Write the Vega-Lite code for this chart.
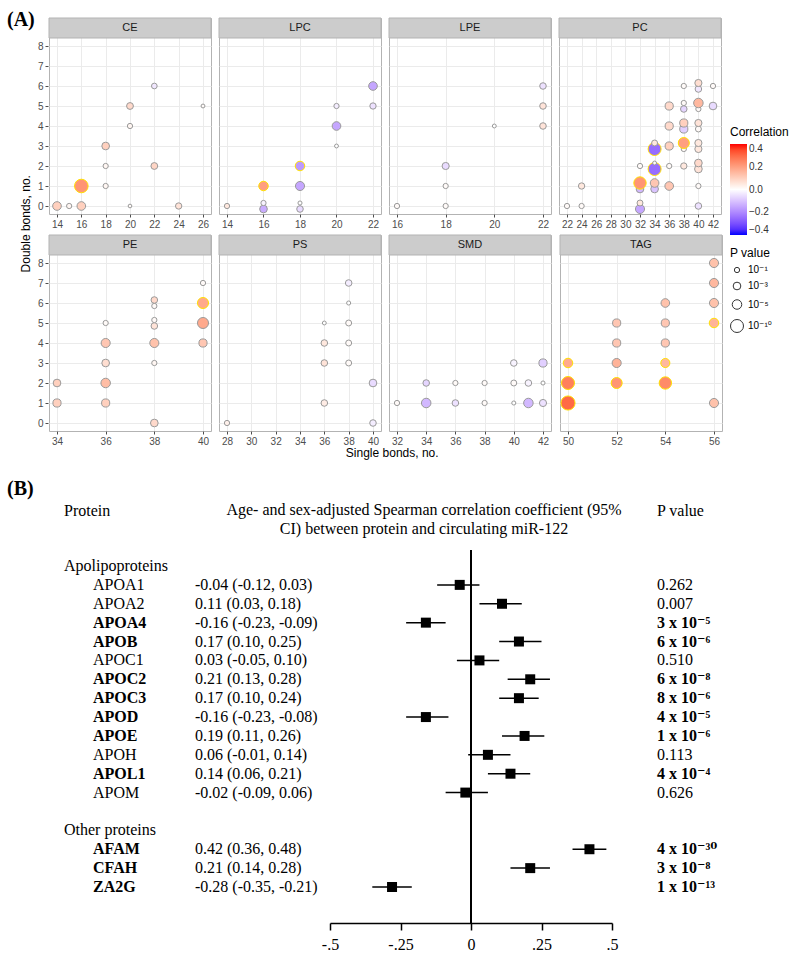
{
  "$schema": "https://vega.github.io/schema/vega-lite/v6.json",
  "background": "white",
  "padding": {"left": 7, "top": 10, "right": 0, "bottom": 0},
  "title": {"text": "(A)", "anchor": "start", "font": "Liberation Serif", "fontSize": 20, "fontWeight": "bold", "offset": -13, "frame": "bounds", "color": "black"},
  "resolve": {"scale": {"x": "independent", "y": "independent"}},
  "spacing": 20,
  "vconcat": [
    {
      "title": {"text": "Double bonds, no.", "orient": "left", "anchor": "middle", "frame": "bounds", "dx": 14, "font": "Liberation Sans", "fontSize": 12, "fontWeight": "normal", "offset": 4, "color": "black"},
      "vconcat": [
    {
      "title": {"text": "Single bonds, no.", "orient": "bottom", "anchor": "middle", "font": "Liberation Sans", "fontSize": 12, "fontWeight": "normal", "offset": 1, "dx": 12, "color": "black"},
      "data": {"values": [
        {"class":"CE","single":14,"double":0,"corr":0.10,"nlogp":4,"sig":"n"},
        {"class":"CE","single":15,"double":0,"corr":0.02,"nlogp":1,"sig":"n"},
        {"class":"CE","single":16,"double":0,"corr":0.10,"nlogp":4,"sig":"n"},
        {"class":"CE","single":16,"double":1,"corr":0.22,"nlogp":11,"sig":"y"},
        {"class":"CE","single":18,"double":1,"corr":0.02,"nlogp":1,"sig":"n"},
        {"class":"CE","single":18,"double":2,"corr":0.02,"nlogp":1,"sig":"n"},
        {"class":"CE","single":18,"double":3,"corr":0.10,"nlogp":3,"sig":"n"},
        {"class":"CE","single":20,"double":0,"corr":0.01,"nlogp":0.1,"sig":"n"},
        {"class":"CE","single":20,"double":4,"corr":0.02,"nlogp":1,"sig":"n"},
        {"class":"CE","single":20,"double":5,"corr":0.08,"nlogp":2.2,"sig":"n"},
        {"class":"CE","single":22,"double":2,"corr":0.09,"nlogp":2.2,"sig":"n"},
        {"class":"CE","single":22,"double":6,"corr":-0.04,"nlogp":1.3,"sig":"n"},
        {"class":"CE","single":24,"double":0,"corr":0.06,"nlogp":1.8,"sig":"n"},
        {"class":"CE","single":26,"double":5,"corr":0.01,"nlogp":0.2,"sig":"n"},
        {"class":"LPC","single":14,"double":0,"corr":0.05,"nlogp":1,"sig":"n"},
        {"class":"LPC","single":16,"double":-0.15,"corr":-0.14,"nlogp":3,"sig":"n"},
        {"class":"LPC","single":16,"double":0.15,"corr":-0.02,"nlogp":1,"sig":"n"},
        {"class":"LPC","single":16,"double":1,"corr":0.20,"nlogp":5,"sig":"y"},
        {"class":"LPC","single":18,"double":-0.15,"corr":-0.06,"nlogp":2,"sig":"n"},
        {"class":"LPC","single":18,"double":0.15,"corr":0.0,"nlogp":0.3,"sig":"n"},
        {"class":"LPC","single":18,"double":1,"corr":-0.15,"nlogp":4.5,"sig":"n"},
        {"class":"LPC","single":18,"double":2,"corr":-0.17,"nlogp":5,"sig":"y"},
        {"class":"LPC","single":20,"double":3,"corr":0.0,"nlogp":0.2,"sig":"n"},
        {"class":"LPC","single":20,"double":4,"corr":-0.15,"nlogp":4,"sig":"n"},
        {"class":"LPC","single":20,"double":5,"corr":-0.03,"nlogp":1,"sig":"n"},
        {"class":"LPC","single":22,"double":5,"corr":-0.05,"nlogp":1.8,"sig":"n"},
        {"class":"LPC","single":22,"double":6,"corr":-0.15,"nlogp":4,"sig":"n"},
        {"class":"LPE","single":16,"double":0,"corr":0.01,"nlogp":1,"sig":"n"},
        {"class":"LPE","single":18,"double":0,"corr":0.01,"nlogp":1,"sig":"n"},
        {"class":"LPE","single":18,"double":1,"corr":0.01,"nlogp":1,"sig":"n"},
        {"class":"LPE","single":18,"double":2,"corr":-0.06,"nlogp":2.5,"sig":"n"},
        {"class":"LPE","single":20,"double":4,"corr":0.0,"nlogp":0.2,"sig":"n"},
        {"class":"LPE","single":22,"double":4,"corr":0.06,"nlogp":2,"sig":"n"},
        {"class":"LPE","single":22,"double":5,"corr":0.06,"nlogp":2,"sig":"n"},
        {"class":"LPE","single":22,"double":6,"corr":-0.05,"nlogp":2,"sig":"n"},
        {"class":"PC","single":22,"double":0,"corr":0.01,"nlogp":1,"sig":"n"},
        {"class":"PC","single":24,"double":0,"corr":0.01,"nlogp":1,"sig":"n"},
        {"class":"PC","single":24,"double":1,"corr":0.05,"nlogp":1.8,"sig":"n"},
        {"class":"PC","single":32,"double":-0.15,"corr":-0.15,"nlogp":4.5,"sig":"n"},
        {"class":"PC","single":32,"double":0.15,"corr":0.05,"nlogp":1.5,"sig":"n"},
        {"class":"PC","single":32,"double":0.85,"corr":-0.12,"nlogp":3,"sig":"n"},
        {"class":"PC","single":32,"double":1.15,"corr":0.22,"nlogp":9,"sig":"y"},
        {"class":"PC","single":32,"double":2,"corr":0.01,"nlogp":1,"sig":"n"},
        {"class":"PC","single":34,"double":0.85,"corr":-0.10,"nlogp":3,"sig":"n"},
        {"class":"PC","single":34,"double":1.15,"corr":0.12,"nlogp":4,"sig":"n"},
        {"class":"PC","single":34,"double":1.85,"corr":-0.25,"nlogp":10,"sig":"y"},
        {"class":"PC","single":34,"double":2.15,"corr":0.01,"nlogp":0.2,"sig":"n"},
        {"class":"PC","single":34,"double":2.85,"corr":-0.25,"nlogp":10,"sig":"y"},
        {"class":"PC","single":34,"double":3.15,"corr":0.05,"nlogp":1.5,"sig":"n"},
        {"class":"PC","single":36,"double":1,"corr":0.12,"nlogp":4,"sig":"n"},
        {"class":"PC","single":36,"double":2,"corr":0.01,"nlogp":1,"sig":"n"},
        {"class":"PC","single":36,"double":3,"corr":0.10,"nlogp":3.5,"sig":"n"},
        {"class":"PC","single":36,"double":4,"corr":0.08,"nlogp":3.5,"sig":"n"},
        {"class":"PC","single":36,"double":5,"corr":0.08,"nlogp":3.5,"sig":"n"},
        {"class":"PC","single":38,"double":2,"corr":0.05,"nlogp":1.8,"sig":"n"},
        {"class":"PC","single":38,"double":2.85,"corr":0.01,"nlogp":1,"sig":"n"},
        {"class":"PC","single":38,"double":3.15,"corr":0.20,"nlogp":7,"sig":"y"},
        {"class":"PC","single":38,"double":3.85,"corr":-0.08,"nlogp":3.5,"sig":"n"},
        {"class":"PC","single":38,"double":4.15,"corr":0.10,"nlogp":3.5,"sig":"n"},
        {"class":"PC","single":38,"double":4.85,"corr":-0.07,"nlogp":2,"sig":"n"},
        {"class":"PC","single":38,"double":5.15,"corr":0.01,"nlogp":1,"sig":"n"},
        {"class":"PC","single":38,"double":6,"corr":0.01,"nlogp":1,"sig":"n"},
        {"class":"PC","single":40,"double":0,"corr":-0.05,"nlogp":2,"sig":"n"},
        {"class":"PC","single":40,"double":1,"corr":0.01,"nlogp":1,"sig":"n"},
        {"class":"PC","single":40,"double":1.85,"corr":0.06,"nlogp":3,"sig":"n"},
        {"class":"PC","single":40,"double":2.15,"corr":0.08,"nlogp":3,"sig":"n"},
        {"class":"PC","single":40,"double":2.85,"corr":0.05,"nlogp":2.5,"sig":"n"},
        {"class":"PC","single":40,"double":3.15,"corr":0.05,"nlogp":2.5,"sig":"n"},
        {"class":"PC","single":40,"double":3.85,"corr":0.01,"nlogp":1.5,"sig":"n"},
        {"class":"PC","single":40,"double":4.15,"corr":0.06,"nlogp":2.5,"sig":"n"},
        {"class":"PC","single":40,"double":4.85,"corr":0.01,"nlogp":1,"sig":"n"},
        {"class":"PC","single":40,"double":5.15,"corr":0.15,"nlogp":5,"sig":"n"},
        {"class":"PC","single":40,"double":5.85,"corr":-0.04,"nlogp":2,"sig":"n"},
        {"class":"PC","single":40,"double":6.15,"corr":0.07,"nlogp":2.5,"sig":"n"},
        {"class":"PC","single":42,"double":5,"corr":-0.06,"nlogp":3,"sig":"n"},
        {"class":"PC","single":42,"double":6,"corr":0.01,"nlogp":1,"sig":"n"},
        {"class":"PE","single":34,"double":1,"corr":0.10,"nlogp":3.5,"sig":"n"},
        {"class":"PE","single":34,"double":2,"corr":0.10,"nlogp":3,"sig":"n"},
        {"class":"PE","single":36,"double":1,"corr":0.10,"nlogp":3.5,"sig":"n"},
        {"class":"PE","single":36,"double":2,"corr":0.14,"nlogp":5,"sig":"n"},
        {"class":"PE","single":36,"double":3,"corr":0.07,"nlogp":3,"sig":"n"},
        {"class":"PE","single":36,"double":4,"corr":0.12,"nlogp":4.5,"sig":"n"},
        {"class":"PE","single":36,"double":5,"corr":0.01,"nlogp":1,"sig":"n"},
        {"class":"PE","single":38,"double":0,"corr":0.08,"nlogp":3,"sig":"n"},
        {"class":"PE","single":38,"double":3,"corr":0.02,"nlogp":1,"sig":"n"},
        {"class":"PE","single":38,"double":4,"corr":0.13,"nlogp":4.5,"sig":"n"},
        {"class":"PE","single":38,"double":4.85,"corr":0.06,"nlogp":2,"sig":"n"},
        {"class":"PE","single":38,"double":5.15,"corr":0.01,"nlogp":1,"sig":"n"},
        {"class":"PE","single":38,"double":5.85,"corr":0.01,"nlogp":1,"sig":"n"},
        {"class":"PE","single":38,"double":6.15,"corr":0.08,"nlogp":2,"sig":"n"},
        {"class":"PE","single":40,"double":4,"corr":0.12,"nlogp":3.5,"sig":"n"},
        {"class":"PE","single":40,"double":5,"corr":0.18,"nlogp":7,"sig":"n"},
        {"class":"PE","single":40,"double":6,"corr":0.18,"nlogp":7,"sig":"y"},
        {"class":"PE","single":40,"double":7,"corr":0.01,"nlogp":1,"sig":"n"},
        {"class":"PS","single":28,"double":0,"corr":0.03,"nlogp":1,"sig":"n"},
        {"class":"PS","single":36,"double":1,"corr":0.04,"nlogp":2,"sig":"n"},
        {"class":"PS","single":36,"double":3,"corr":0.06,"nlogp":2,"sig":"n"},
        {"class":"PS","single":36,"double":4,"corr":0.05,"nlogp":2,"sig":"n"},
        {"class":"PS","single":36,"double":5,"corr":0.0,"nlogp":0.2,"sig":"n"},
        {"class":"PS","single":38,"double":3,"corr":0.01,"nlogp":1.5,"sig":"n"},
        {"class":"PS","single":38,"double":4,"corr":0.01,"nlogp":1.5,"sig":"n"},
        {"class":"PS","single":38,"double":5,"corr":0.01,"nlogp":1.5,"sig":"n"},
        {"class":"PS","single":38,"double":6,"corr":0.0,"nlogp":0.3,"sig":"n"},
        {"class":"PS","single":38,"double":7,"corr":-0.03,"nlogp":2,"sig":"n"},
        {"class":"PS","single":40,"double":0,"corr":-0.03,"nlogp":2,"sig":"n"},
        {"class":"PS","single":40,"double":2,"corr":-0.06,"nlogp":3,"sig":"n"},
        {"class":"SMD","single":32,"double":1,"corr":0.01,"nlogp":1,"sig":"n"},
        {"class":"SMD","single":34,"double":1,"corr":-0.12,"nlogp":5,"sig":"n"},
        {"class":"SMD","single":34,"double":2,"corr":-0.07,"nlogp":2,"sig":"n"},
        {"class":"SMD","single":36,"double":1,"corr":-0.05,"nlogp":2,"sig":"n"},
        {"class":"SMD","single":36,"double":2,"corr":0.01,"nlogp":1,"sig":"n"},
        {"class":"SMD","single":38,"double":1,"corr":0.01,"nlogp":1,"sig":"n"},
        {"class":"SMD","single":38,"double":2,"corr":0.01,"nlogp":1,"sig":"n"},
        {"class":"SMD","single":40,"double":1,"corr":0.0,"nlogp":0.3,"sig":"n"},
        {"class":"SMD","single":40,"double":2,"corr":0.01,"nlogp":1.5,"sig":"n"},
        {"class":"SMD","single":40,"double":3,"corr":-0.02,"nlogp":2,"sig":"n"},
        {"class":"SMD","single":41,"double":1,"corr":-0.12,"nlogp":5,"sig":"n"},
        {"class":"SMD","single":41,"double":2,"corr":-0.02,"nlogp":2,"sig":"n"},
        {"class":"SMD","single":42,"double":1,"corr":-0.05,"nlogp":2.5,"sig":"n"},
        {"class":"SMD","single":42,"double":2,"corr":0.0,"nlogp":0.3,"sig":"n"},
        {"class":"SMD","single":42,"double":3,"corr":-0.08,"nlogp":3.5,"sig":"n"},
        {"class":"TAG","single":50,"double":1,"corr":0.30,"nlogp":12,"sig":"y"},
        {"class":"TAG","single":50,"double":2,"corr":0.26,"nlogp":10,"sig":"y"},
        {"class":"TAG","single":50,"double":3,"corr":0.18,"nlogp":5,"sig":"y"},
        {"class":"TAG","single":52,"double":2,"corr":0.22,"nlogp":7,"sig":"y"},
        {"class":"TAG","single":52,"double":3,"corr":0.16,"nlogp":4.5,"sig":"n"},
        {"class":"TAG","single":52,"double":4,"corr":0.12,"nlogp":3.5,"sig":"n"},
        {"class":"TAG","single":52,"double":5,"corr":0.12,"nlogp":3.5,"sig":"n"},
        {"class":"TAG","single":54,"double":2,"corr":0.24,"nlogp":9,"sig":"y"},
        {"class":"TAG","single":54,"double":3,"corr":0.15,"nlogp":4.5,"sig":"y"},
        {"class":"TAG","single":54,"double":4,"corr":0.12,"nlogp":3.5,"sig":"n"},
        {"class":"TAG","single":54,"double":5,"corr":0.12,"nlogp":3.5,"sig":"n"},
        {"class":"TAG","single":54,"double":6,"corr":0.13,"nlogp":4,"sig":"n"},
        {"class":"TAG","single":56,"double":1,"corr":0.13,"nlogp":4.5,"sig":"n"},
        {"class":"TAG","single":56,"double":5,"corr":0.16,"nlogp":5,"sig":"y"},
        {"class":"TAG","single":56,"double":6,"corr":0.13,"nlogp":4.5,"sig":"n"},
        {"class":"TAG","single":56,"double":7,"corr":0.15,"nlogp":4.5,"sig":"n"},
        {"class":"TAG","single":56,"double":8,"corr":0.13,"nlogp":4.5,"sig":"n"}
      ]},
      "facet": {"field": "class", "type": "nominal", "header": {"labels": false, "title": null, "labelFontSize": 0, "labelPadding": 0}},
      "columns": 4,
      "spacing": {"row": 4, "column": 6},
      "resolve": {"scale": {"x": "independent"}},
      "spec": {
        "width": 162,
        "height": 196,
        "layer": [
          {
            "transform": [{"aggregate": [{"op": "count", "as": "n"}], "groupby": ["class"]}],
            "mark": {"type": "rect", "fill": "#CCCCCC", "stroke": "#B3B3B3", "strokeWidth": 1},
            "encoding": {
              "x": {"value": 0},
              "x2": {"value": "width"},
              "y": {"datum": 8.4},
              "y2": {"datum": 9.4}
            }
          },
          {
            "transform": [
              {"aggregate": [{"op": "min", "field": "single", "as": "lo"}, {"op": "max", "field": "single", "as": "hi"}], "groupby": ["class"]},
              {"calculate": "(datum.lo + datum.hi) / 2", "as": "mid"}
            ],
            "mark": {"type": "text", "fontSize": 11, "color": "#1A1A1A", "baseline": "middle", "font": "Liberation Sans"},
            "encoding": {
              "x": {"field": "mid", "type": "quantitative", "title": null},
              "y": {"datum": 8.9},
              "text": {"field": "class"}
            }
          },
          {
            "mark": {"type": "circle", "strokeWidth": 1, "opacity": 1},
            "encoding": {
              "x": {"field": "single", "type": "quantitative", "title": null,
                "scale": {"zero": false, "nice": false, "padding": 8},
                "axis": {"title": null, "values": [12,14,16,18,20,22,24,26,28,30,32,34,36,38,40,42,44,46,48,50,52,54,56,58], "tickCount": 30, "format": "d", "labelFontSize": 10, "labelColor": "#4D4D4D", "tickColor": "#4D4D4D", "tickSize": 3, "labelPadding": 2, "domain": false, "grid": true, "gridColor": "#EBEBEB", "labelFlush": false, "labelOverlap": false}},
              "y": {"field": "double", "type": "quantitative",
                "scale": {"domain": [-0.4, 9.4], "nice": false, "zero": false},
                "axis": {"title": null, "values": [0,1,2,3,4,5,6,7,8], "tickCount": 20, "format": "d", "labelFontSize": 10, "labelColor": "#4D4D4D", "tickColor": "#4D4D4D", "tickSize": 3, "labelPadding": 2, "domain": false, "grid": true, "gridColor": "#EBEBEB", "labelOverlap": false}},
              "fill": {"field": "corr", "type": "quantitative", "title": "Correlation",
                "scale": {"domain": [-0.4, 0, 0.4], "range": ["#0000FF", "#FFFFFF", "#FF0000"], "interpolate": "lab"},
                "legend": {"orient": "none", "legendX": 681, "legendY": 109, "values": [-0.4, -0.2, 0, 0.2, 0.4], "format": ".1f", "gradientLength": 91, "gradientThickness": 17, "direction": "vertical", "titleFontSize": 12, "labelFontSize": 10, "labelColor": "#333333"}},
              "size": {"field": "nlogp", "type": "quantitative", "title": "P value",
                "scale": {"domain": [0, 12], "range": [12, 200]},
                "legend": {"orient": "none", "legendX": 681, "legendY": 230, "values": [1, 3, 5, 10], "labelExpr": "datum.value == 1 ? '10⁻¹' : datum.value == 3 ? '10⁻³' : datum.value == 5 ? '10⁻⁵' : '10⁻¹⁰'", "labelFont": "Liberation Sans, DejaVu Sans", "symbolFillColor": "white", "symbolStrokeColor": "#333333", "symbolStrokeWidth": 1, "symbolType": "circle", "titleFontSize": 12, "labelFontSize": 10, "rowPadding": 5}},
              "stroke": {"field": "sig", "type": "nominal", "scale": {"domain": ["n", "y"], "range": ["#9A9A9A", "#FFE000"]}, "legend": null}
            }
          }
        ]
      }
    }
      ]
    },
    {
      "title": {"text": "(B)", "anchor": "start", "font": "Liberation Serif", "fontSize": 20, "fontWeight": "bold", "offset": 3, "dx": -42, "color": "black"},
      "data": {"values": [
        {"label": "Apolipoproteins", "kind": "group"},
        {"label": "APOA1", "kind": "protein", "est": -0.04, "lo": -0.12, "hi": 0.03, "ci": "-0.04 (-0.12, 0.03)", "p": "0.262", "sig": false},
        {"label": "APOA2", "kind": "protein", "est": 0.11, "lo": 0.03, "hi": 0.18, "ci": "\u00a00.11 (0.03, 0.18)", "p": "0.007", "sig": false},
        {"label": "APOA4", "kind": "protein", "est": -0.16, "lo": -0.23, "hi": -0.09, "ci": "-0.16 (-0.23, -0.09)", "p": "3 x 10⁻⁵", "sig": true},
        {"label": "APOB", "kind": "protein", "est": 0.17, "lo": 0.10, "hi": 0.25, "ci": "\u00a00.17 (0.10, 0.25)", "p": "6 x 10⁻⁶", "sig": true},
        {"label": "APOC1", "kind": "protein", "est": 0.03, "lo": -0.05, "hi": 0.10, "ci": "\u00a00.03 (-0.05, 0.10)", "p": "0.510", "sig": false},
        {"label": "APOC2", "kind": "protein", "est": 0.21, "lo": 0.13, "hi": 0.28, "ci": "\u00a00.21 (0.13, 0.28)", "p": "6 x 10⁻⁸", "sig": true},
        {"label": "APOC3", "kind": "protein", "est": 0.17, "lo": 0.10, "hi": 0.24, "ci": "\u00a00.17 (0.10, 0.24)", "p": "8 x 10⁻⁶", "sig": true},
        {"label": "APOD", "kind": "protein", "est": -0.16, "lo": -0.23, "hi": -0.08, "ci": "-0.16 (-0.23, -0.08)", "p": "4 x 10⁻⁵", "sig": true},
        {"label": "APOE", "kind": "protein", "est": 0.19, "lo": 0.11, "hi": 0.26, "ci": "\u00a00.19 (0.11, 0.26)", "p": "1 x 10⁻⁶", "sig": true},
        {"label": "APOH", "kind": "protein", "est": 0.06, "lo": -0.01, "hi": 0.14, "ci": "\u00a00.06 (-0.01, 0.14)", "p": "0.113", "sig": false},
        {"label": "APOL1", "kind": "protein", "est": 0.14, "lo": 0.06, "hi": 0.21, "ci": "\u00a00.14 (0.06, 0.21)", "p": "4 x 10⁻⁴", "sig": true},
        {"label": "APOM", "kind": "protein", "est": -0.02, "lo": -0.09, "hi": 0.06, "ci": "-0.02 (-0.09, 0.06)", "p": "0.626", "sig": false},
        {"label": "Other proteins", "kind": "group"},
        {"label": "AFAM", "kind": "protein", "est": 0.42, "lo": 0.36, "hi": 0.48, "ci": "\u00a00.42 (0.36, 0.48)", "p": "4 x 10⁻³⁰", "sig": true},
        {"label": "CFAH", "kind": "protein", "est": 0.21, "lo": 0.14, "hi": 0.28, "ci": "\u00a00.21 (0.14, 0.28)", "p": "3 x 10⁻⁸", "sig": true},
        {"label": "ZA2G", "kind": "protein", "est": -0.28, "lo": -0.35, "hi": -0.21, "ci": "-0.28 (-0.35, -0.21)", "p": "1 x 10⁻¹³", "sig": true}
      ]},
      "bounds": "flush",
      "spacing": 0,
      "hconcat": [
        {
          "width": 146, "height": 373, "view": {"stroke": null},
          "title": {"text": "Protein", "anchor": "start", "offset": 31, "dx": 15, "font": "Liberation Serif", "fontSize": 16, "fontWeight": "normal", "color": "black"},
          "layer": [
            {
              "transform": [{"filter": "datum.kind == 'group'"}],
              "mark": {"type": "text", "align": "left", "baseline": "middle", "font": "Liberation Serif", "fontSize": 16, "color": "black", "dx": 15},
              "encoding": {
                "x": {"value": 0},
                "y": {"field": "label", "type": "nominal", "axis": null, "scale": {"type": "point", "domain": ["Apolipoproteins","APOA1","APOA2","APOA4","APOB","APOC1","APOC2","APOC3","APOD","APOE","APOH","APOL1","APOM","gap","Other proteins","AFAM","CFAH","ZA2G"], "range": [16, 337], "padding": 0}},
                "text": {"field": "label"}
              }
            },
            {
              "transform": [{"filter": "datum.kind == 'protein' && !datum.sig"}],
              "mark": {"type": "text", "align": "left", "baseline": "middle", "font": "Liberation Serif", "fontSize": 16, "color": "black", "dx": 44},
              "encoding": {
                "x": {"value": 0},
                "y": {"field": "label", "type": "nominal", "axis": null},
                "text": {"field": "label"}
              }
            },
            {
              "transform": [{"filter": "datum.kind == 'protein' && datum.sig"}],
              "mark": {"type": "text", "align": "left", "baseline": "middle", "font": "Liberation Serif", "fontSize": 16, "color": "black", "dx": 44, "fontWeight": "bold"},
              "encoding": {
                "x": {"value": 0},
                "y": {"field": "label", "type": "nominal", "axis": null},
                "text": {"field": "label"}
              }
            }
          ]
        },
        {
          "width": 135, "height": 373, "view": {"stroke": null},
          "transform": [{"filter": "datum.kind == 'protein'"}],
          "mark": {"type": "text", "align": "left", "baseline": "middle", "font": "Liberation Serif", "fontSize": 16, "color": "black"},
          "encoding": {
            "x": {"value": 0},
            "y": {"field": "label", "type": "nominal", "axis": null, "scale": {"type": "point", "domain": ["Apolipoproteins","APOA1","APOA2","APOA4","APOB","APOC1","APOC2","APOC3","APOD","APOE","APOH","APOL1","APOM","gap","Other proteins","AFAM","CFAH","ZA2G"], "range": [16, 337], "padding": 0}},
            "text": {"field": "ci"}
          }
        },
        {
          "width": 282, "height": 373, "view": {"stroke": null},
          "title": {"text": ["Age- and sex-adjusted Spearman correlation coefficient (95%", "CI) between protein and circulating miR-122"], "anchor": "middle", "dx": -47, "offset": 12, "lineHeight": 19, "font": "Liberation Serif", "fontSize": 16, "fontWeight": "normal", "color": "black"},
          "layer": [
            {
              "mark": {"type": "rule", "color": "black", "strokeWidth": 1.5},
              "encoding": {"x": {"datum": 0, "type": "quantitative"}}
            },
            {
              "transform": [{"filter": "datum.kind == 'protein'"}],
              "mark": {"type": "rule", "color": "black", "strokeWidth": 1.5},
              "encoding": {
                "x": {"field": "lo", "type": "quantitative"},
                "x2": {"field": "hi"},
                "y": {"field": "label", "type": "nominal", "axis": null}
              }
            },
            {
              "transform": [{"filter": "datum.kind == 'protein'"}],
              "mark": {"type": "square", "filled": true, "color": "black", "size": 100, "opacity": 1},
              "encoding": {
                "x": {"field": "est", "type": "quantitative",
                  "scale": {"domain": [-0.5, 0.5], "nice": false, "zero": false},
                  "axis": {"title": null, "values": [-0.5, -0.25, 0, 0.25, 0.5], "labelExpr": "datum.value == -0.5 ? '-.5' : datum.value == -0.25 ? '-.25' : datum.value == 0 ? '0' : datum.value == 0.25 ? '.25' : '.5'", "labelFont": "Liberation Serif", "labelFontSize": 16, "labelColor": "black", "domainColor": "black", "domainWidth": 1.5, "tickColor": "black", "tickWidth": 1.5, "tickSize": 7, "grid": false, "labelPadding": 6, "labelFlush": false}},
                "y": {"field": "label", "type": "nominal", "axis": null, "scale": {"type": "point", "domain": ["Apolipoproteins","APOA1","APOA2","APOA4","APOB","APOC1","APOC2","APOC3","APOD","APOE","APOH","APOL1","APOM","gap","Other proteins","AFAM","CFAH","ZA2G"], "range": [16, 337], "padding": 0}}
              }
            }
          ]
        },
        {
          "width": 90, "height": 373, "view": {"stroke": null},
          "title": {"text": "P value", "anchor": "start", "offset": 31, "dx": 45, "font": "Liberation Serif", "fontSize": 16, "fontWeight": "normal", "color": "black"},
          "layer": [
            {
              "transform": [{"filter": "datum.kind == 'protein' && !datum.sig"}],
              "mark": {"type": "text", "align": "left", "baseline": "middle", "font": "Liberation Serif, DejaVu Serif", "fontSize": 16, "color": "black", "dx": 45},
              "encoding": {
                "x": {"value": 0},
                "y": {"field": "label", "type": "nominal", "axis": null, "scale": {"type": "point", "domain": ["Apolipoproteins","APOA1","APOA2","APOA4","APOB","APOC1","APOC2","APOC3","APOD","APOE","APOH","APOL1","APOM","gap","Other proteins","AFAM","CFAH","ZA2G"], "range": [16, 337], "padding": 0}},
                "text": {"field": "p"}
              }
            },
            {
              "transform": [{"filter": "datum.kind == 'protein' && datum.sig"}],
              "mark": {"type": "text", "align": "left", "baseline": "middle", "font": "Liberation Serif, DejaVu Serif", "fontSize": 16, "color": "black", "fontWeight": "bold", "dx": 45},
              "encoding": {
                "x": {"value": 0},
                "y": {"field": "label", "type": "nominal", "axis": null},
                "text": {"field": "p"}
              }
            }
          ]
        }
      ]
    }
  ],
  "config": {
    "font": "Liberation Sans",
    "view": {"stroke": "#B3B3B3", "strokeWidth": 1},
    "axis": {"labelFont": "Liberation Sans", "titleFont": "Liberation Sans", "titleFontWeight": "normal"},
    "legend": {"labelFont": "Liberation Sans", "titleFont": "Liberation Sans", "titleFontWeight": "normal", "titleColor": "black"},
    "header": {"labels": false},
    "headerFacet": {"labels": false, "labelFontSize": 0, "labelPadding": 0},
    "title": {"fontWeight": "normal"}
  }
}
